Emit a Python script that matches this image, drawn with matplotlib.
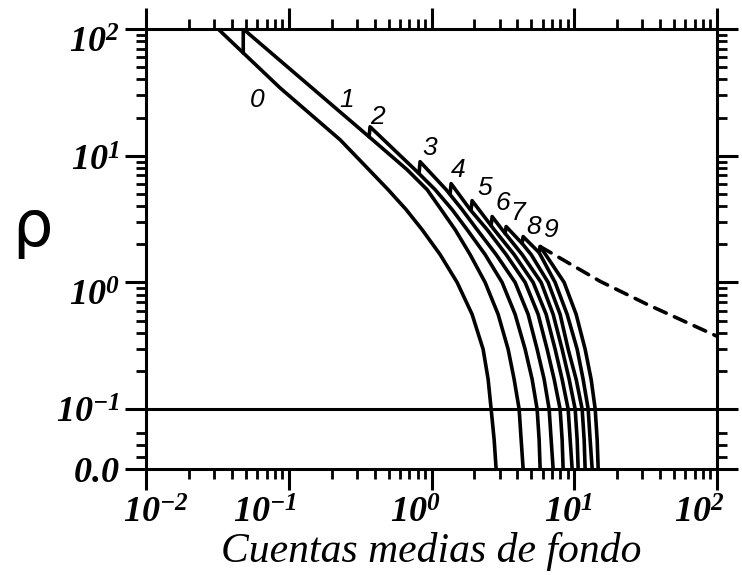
import numpy as np
import matplotlib
matplotlib.use("Agg")
import matplotlib.pyplot as plt
from matplotlib.ticker import FixedLocator, LogLocator, NullFormatter
import matplotlib.transforms as mtransforms

plt.rcParams['mathtext.fontset'] = 'custom'
plt.rcParams['mathtext.rm'] = 'Liberation Serif:italic:bold'
plt.rcParams['mathtext.it'] = 'Liberation Serif:italic:bold'
plt.rcParams['mathtext.default'] = 'rm'

# ---------------- data ----------------
b_n0 = [0.032, 0.0869, 0.2288, 0.3371, 0.4964, 0.6637, 0.8591, 1.149, 1.512, 1.925,
        2.299, 2.493, 2.617, 2.747, 2.836]
rho_n0 = [100, 34.3, 13.37, 8.50, 5.40, 3.76, 2.61, 1.66, 1.0, 0.560,
          0.297, 0.172, 0.1, 0.049, 0.0]

b_n1 = [0.048, 0.048, 0.3653, 0.6745, 0.9316, 1.168, 1.464, 1.864, 2.375, 2.929,
        3.442, 3.792, 4.111, 4.246, 4.385]
rho_n1 = [64.7, 100, 14.11, 7.76, 5.40, 3.76, 2.61, 1.66, 1.0, 0.560,
          0.297, 0.172, 0.1, 0.049, 0.0]

b_n2 = [0.3653, 0.3712, 0.7927, 1.060, 1.394, 1.776, 2.375, 3.124, 3.853, 4.529,
        5.070, 5.495, 5.675, 5.768]
rho_n2 = [14.11, 16.92, 7.48, 5.40, 3.76, 2.61, 1.66, 1.0, 0.560, 0.297,
          0.172, 0.1, 0.049, 0.0]

b_n3 = [0.8187, 0.8319, 1.266, 1.638, 2.087, 2.836, 3.853, 4.753, 5.495, 6.154,
        6.670, 6.888, 7.114]
rho_n3 = [7.35, 8.97, 5.40, 3.76, 2.61, 1.66, 1.0, 0.560, 0.297, 0.172,
          0.1, 0.049, 0.0]

b_n4 = [1.350, 1.372, 1.864, 2.453, 3.333, 4.529, 5.585, 6.457, 7.232, 7.962,
        8.224, 8.358]
rho_n4 = [5.02, 6.02, 3.76, 2.61, 1.66, 1.0, 0.560, 0.297, 0.172, 0.1,
          0.049, 0.0]

b_n5 = [1.895, 1.925, 2.747, 3.792, 5.152, 6.356, 7.347, 8.224, 9.064, 9.361, 9.667]
rho_n5 = [3.76, 4.42, 2.61, 1.66, 1.0, 0.560, 0.297, 0.172, 0.1, 0.049, 0.0]

b_n6 = [2.617, 2.660, 3.124, 4.315, 5.861, 7.114, 8.224, 9.210, 10.15, 10.48, 10.65]
rho_n6 = [2.81, 3.31, 2.61, 1.66, 1.0, 0.560, 0.297, 0.172, 0.1, 0.049, 0.0]

b_n7 = [3.280, 3.333, 4.315, 4.989, 6.563, 7.962, 9.064, 10.31, 11.36, 11.73, 11.92]
rho_n7 = [2.43, 2.76, 2.03, 1.66, 1.0, 0.560, 0.297, 0.172, 0.1, 0.049, 0.0]

b_n8 = [4.315, 4.385, 5.675, 6.457, 7.347, 8.917, 10.48, 11.54, 12.52, 12.92, 13.35]
rho_n8 = [2.03, 2.30, 1.72, 1.31, 1.0, 0.560, 0.297, 0.172, 0.1, 0.049, 0.0]

b_n9 = [5.675, 5.768, 7.000, 8.495, 10.31, 11.92, 13.13, 14.02, 14.47, 14.71]
rho_n9 = [1.72, 1.92, 1.39, 1.0, 0.560, 0.297, 0.172, 0.1, 0.049, 0.0]

b_dash = [5.768, 15.19, 32.43, 100.0]
rho_dash = [1.92, 1.02, 0.671, 0.376]

curve_labels = ['0', '1', '2', '3', '4', '5', '6', '7', '8', '9']
label_b = [0.060, 0.256, 0.4157, 0.978, 1.536, 2.375, 3.176, 3.98, 5.15, 6.78]
label_rho = [27.6, 27.6, 20.3, 11.56, 7.76, 5.60, 4.26, 3.56, 2.76, 2.61]

x_ticks = [0.01, 0.1, 1, 10, 100]
x_ticklabels = [r'$10^{-2}$', r'$10^{-1}$', r'$10^{0}$', r'$10^{1}$', r'$10^{2}$']
y_ticks = [0.0, 0.1, 1, 10, 100]
y_ticklabels = [r'$0.0$', r'$10^{-1}$', r'$10^{0}$', r'$10^{1}$', r'$10^{2}$']
y_lin_minor = [0.02, 0.04, 0.06]

xlabel_text = 'Cuentas medias de fondo'
ylabel_text = 'ρ'

# ---------------- mixed y scale: log above 0.1, linear below ----------------
K = 60.0 / 127.0  # height of linear part in decade units

def fwd(y):
    y = np.asarray(y, dtype=float)
    with np.errstate(all='ignore'):
        up = np.log10(np.maximum(y, 0.1)) + 1.0
        lo = (y - 0.1) / 0.1 * K
    return np.where(y >= 0.1, up, lo)

def inv(u):
    u = np.asarray(u, dtype=float)
    with np.errstate(all='ignore'):
        up = 10.0 ** (np.clip(u, -50, 50) - 1.0)
        lo = 0.1 + u / K * 0.1
    return np.where(u >= 0, up, lo)

W, H = 742, 575
fig = plt.figure(figsize=(W / 100, H / 100), dpi=100)
ax = fig.add_axes([146 / W, 1 - 469 / H, (717 - 146) / W, (469 - 29) / H])

ax.set_xscale('log')
ax.set_yscale('function', functions=(fwd, inv))
ax.set_xlim(0.01, 100)
ax.set_ylim(0.0, 100)

lw = 2.6
curves = [(b_n0, rho_n0), (b_n1, rho_n1), (b_n2, rho_n2), (b_n3, rho_n3),
          (b_n4, rho_n4), (b_n5, rho_n5), (b_n6, rho_n6), (b_n7, rho_n7),
          (b_n8, rho_n8), (b_n9, rho_n9)]
for bx, ry in curves:
    ax.plot(bx, ry, color='black', lw=lw, solid_joinstyle='round',
            solid_capstyle='round')
ax.plot(b_dash, rho_dash, color='black', lw=lw, linestyle=(0, (3.5, 2.5)),
        dash_capstyle='round')

ax.axhline(0.1, color='black', lw=2.2)

for t, bx, ry in zip(curve_labels, label_b, label_rho):
    ax.text(bx, ry, t, fontsize=19, style='italic', family='Liberation Sans',
            ha='center', va='center')

# ticks
ax.xaxis.set_major_locator(FixedLocator(x_ticks))
ax.xaxis.set_minor_locator(LogLocator(base=10, subs=np.arange(2, 10), numticks=20))
ax.xaxis.set_minor_formatter(NullFormatter())
ax.set_xticklabels(x_ticklabels)

y_minor = list(y_lin_minor)
for dec in [0.1, 1, 10]:
    y_minor += [dec * k for k in range(2, 10)]
ax.yaxis.set_major_locator(FixedLocator(y_ticks))
ax.yaxis.set_minor_locator(FixedLocator(y_minor))
ax.yaxis.set_minor_formatter(NullFormatter())
ax.set_yticklabels(y_ticklabels)

ax.tick_params(which='both', direction='out', top=True, right=True,
               labeltop=False, labelright=False, color='black')
ax.tick_params(which='major', length=15, width=2.2, labelsize=26, pad=4)
ax.tick_params(which='minor', length=7, width=2.0)
for sp in ax.spines.values():
    sp.set_linewidth(2.2)

# small offsets of the tick labels, as placed in the scan
x_off = [10, -24, -16, -6, -18]
for lab, dx in zip(ax.get_xticklabels(), x_off):
    lab.set_transform(lab.get_transform() + mtransforms.ScaledTranslation(dx / 100, 0, fig.dpi_scale_trans))
y_off = [0, 0, -10, -2, -10]
for lab, dy in zip(ax.get_yticklabels(), y_off):
    lab.set_transform(lab.get_transform() + mtransforms.ScaledTranslation(0, dy / 100, fig.dpi_scale_trans))

ax.set_xlabel(xlabel_text, fontsize=30, family='Liberation Serif', style='italic', labelpad=2)
fig.text(32 / W, 1 - 228 / H, ylabel_text, fontsize=46, ha='center', va='center',
         family='DejaVu Sans')

fig.savefig('out.png', dpi=100, facecolor='white')
